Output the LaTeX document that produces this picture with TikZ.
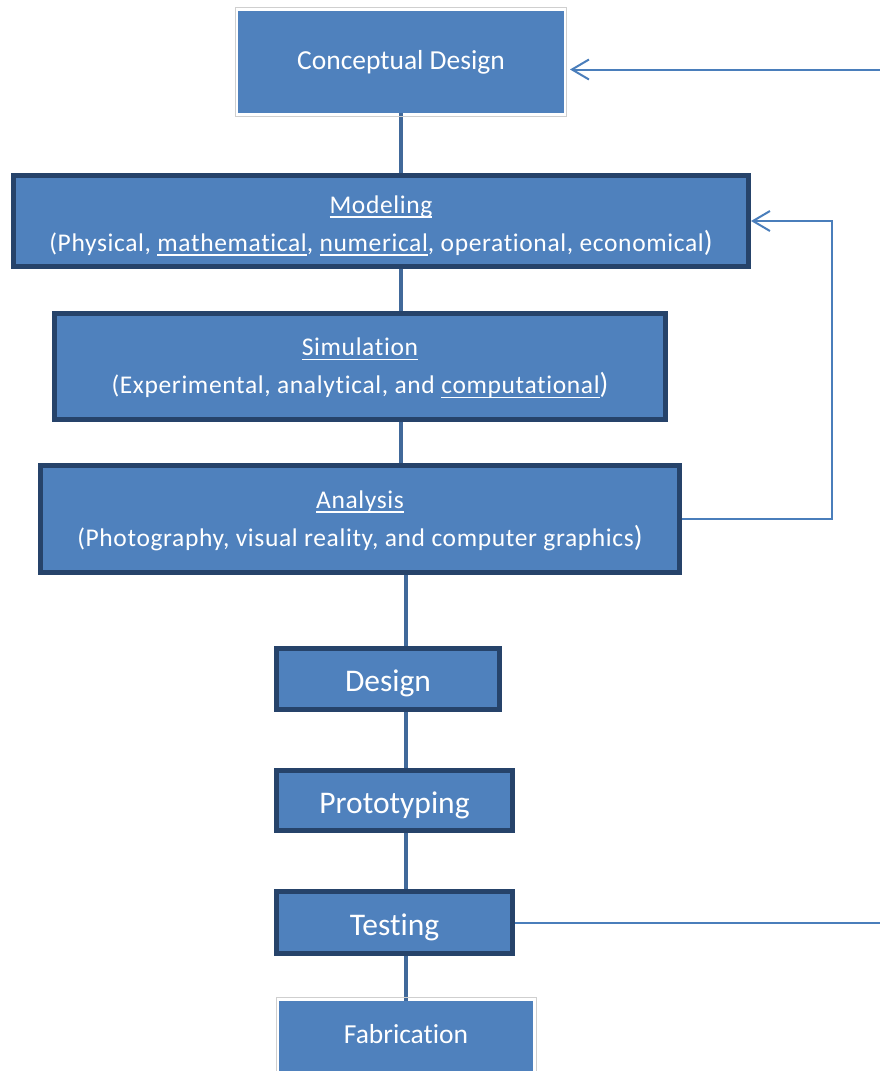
\documentclass[tikz,border=0pt]{standalone}
\usepackage{fontspec}
\setmainfont[Ligatures=CommonOff]{Carlito}
\newfontfamily\spacedfont[LetterSpace=2.5,Ligatures=CommonOff]{Carlito}
\usetikzlibrary{arrows.meta,backgrounds}
\definecolor{boxfill}{HTML}{4F81BD}
\definecolor{boxline}{HTML}{26436A}
\definecolor{conn}{HTML}{41699A}
\definecolor{fbline}{HTML}{4A7EBB}
\definecolor{framegray}{HTML}{CFCFCF}
\newcommand{\ulx}[1]{\setbox0=\hbox{#1}\rlap{\rule[-4.5pt]{\wd0}{1.4pt}}\box0}
\newcommand{\bigpar}{{\fontsize{29}{38}\selectfont )}}
\newcommand{\topstrut}[1]{\rule{0pt}{#1}}
\newcommand{\botstrut}{\rule[-10pt]{0pt}{10pt}}
\begin{document}
\begin{tikzpicture}[x=1pt,y=-1pt,
  stage/.style={fill=boxfill, draw=boxline, line width=5pt, text=white, inner sep=0pt, align=center},
  plainbox/.style={fill=boxfill, text=white, inner sep=0pt, outer sep=0pt},
  frame/.style={draw=framegray, line width=1pt},
  twoline/.style={font=\spacedfont\fontsize{25.5}{38}\selectfont},
  bigfont/.style={font=\fontsize{31.5}{36}\selectfont, text height=25pt, text depth=0pt},
  midfont/.style={font=\fontsize{27.5}{33}\selectfont},
  link/.style={draw=conn, line width=3.5pt},
  fback/.style={draw=fbline, line width=2pt},
  barb/.style={-{Straight Barb[length=17pt,width=20pt]}}
]
\useasboundingbox (0,0) rectangle (880,1071);
\clip (0,0) rectangle (880,1071);

% Conceptual design
\draw[frame] (235.5,7.5) rectangle (566.5,116.5);
\node[plainbox, midfont, minimum width=326pt, minimum height=102pt] (cd) at (401,62) {Conceptual Design};

\node[stage, twoline, minimum width=735pt, minimum height=91pt] (mod) at (381,221)
  {\topstrut{32pt}\ulx{Modeling}\\(Physical, \ulx{mathematical}, \ulx{numerical}, operational, economical\bigpar\botstrut};
\node[stage, twoline, minimum width=611pt, minimum height=106pt] (sim) at (360,366.5)
  {\topstrut{26pt}\ulx{Simulation}\\(Experimental, analytical, and \ulx{computational}\bigpar\botstrut};
\node[stage, twoline, minimum width=639pt, minimum height=107pt] (ana) at (360,519)
  {\topstrut{26pt}\ulx{Analysis}\\(Photography, visual reality, and computer graphics\bigpar\botstrut};

\node[stage, bigfont, minimum width=223pt, minimum height=61pt] (des) at (388,679) {Design};
\node[stage, bigfont, minimum width=236pt, minimum height=60pt] (pro) at (394.5,800.5) {Prototyping};
\node[stage, bigfont, minimum width=236pt, minimum height=62pt] (tst) at (394.5,922.5) {Testing};

% Fabrication
\draw[frame] (276.5,997.5) rectangle (536.5,1090);
\node[plainbox, minimum width=253.5pt, minimum height=85pt, anchor=north] (fabbox) at (406,1001) {};
\node[midfont, text=white, inner sep=0pt] (fab) at (406,1034) {Fabrication};

\begin{scope}[on background layer]
\draw[link] (cd.south) -- (cd.south |- mod.north);
\draw[link] (mod.south -| cd.south) -- (sim.north -| cd.south);
\draw[link] (sim.south -| cd.south) -- (ana.north -| cd.south);
\draw[link] (ana.south -| fabbox.north) -- (des.north -| fabbox.north);
\draw[link] (des.south -| fabbox.north) -- (pro.north -| fabbox.north);
\draw[link] (pro.south -| fabbox.north) -- (tst.north -| fabbox.north);
\draw[link] (tst.south -| fabbox.north) -- (fabbox.north);
\end{scope}

% feedback lines
\coordinate (fbx) at (831.5,0);
\coordinate (rtop) at (880,69.5);
\coordinate (rbot) at (880,922.5);
\draw[fback, barb] (ana.east) -- (ana.east -| fbx) -- (fbx |- mod.east) -- (mod.east);
\draw[fback, barb, shorten >=6pt] (rtop) -- (rtop -| cd.east);
\draw[fback] (tst.east) -- (tst.east -| rbot);
\end{tikzpicture}
\end{document}
